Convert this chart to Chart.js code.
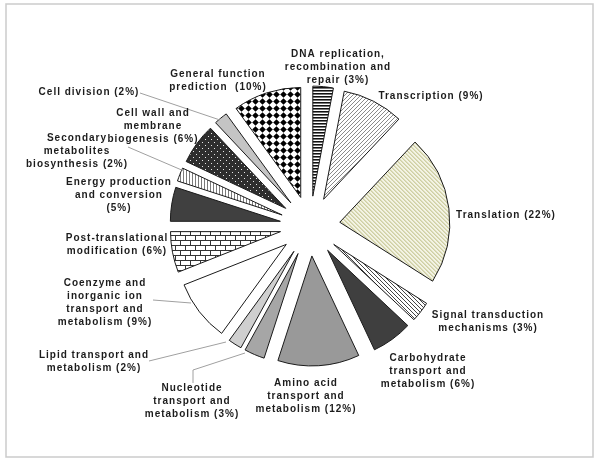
<!DOCTYPE html>
<html>
<head>
<meta charset="utf-8">
<script src="https://cdn.jsdelivr.net/npm/chart.js@4.4.0/dist/chart.umd.min.js"></script>
<style>
    html, body { margin: 0; padding: 0; background: #fff; }
    #wrap { width: 600px; height: 464px; }
</style>
</head>
<body>
<div id="wrap"><canvas id="cogChart" width="600" height="464"></canvas></div>
<script>
// COG functional categories, clockwise from 12 o'clock
const categories = [
    'DNA replication, recombination and repair',
    'Transcription',
    'Translation',
    'Signal transduction mechanisms',
    'Carbohydrate transport and metabolism',
    'Amino acid transport and metabolism',
    'Nucleotide transport and metabolism',
    'Lipid transport and metabolism',
    'Coenzyme and inorganic ion transport and metabolism',
    'Post-translational modification',
    'Energy production and conversion',
    'Secondary metabolites biosynthesis',
    'Cell wall and membrane biogenesis',
    'Cell division',
    'General function prediction'
];
const shares = [3, 9, 22, 3, 6, 12, 3, 2, 9, 6, 5, 2, 6, 2, 10];

// label text as it is broken in the figure
const labelLines = [
    ['DNA replication,', 'recombination and', 'repair (3%)'],
    ['Transcription (9%)'],
    ['Translation (22%)'],
    ['Signal transduction', 'mechanisms (3%)'],
    ['Carbohydrate', 'transport and', 'metabolism (6%)'],
    ['Amino acid', 'transport and', 'metabolism (12%)'],
    ['Nucleotide', 'transport and', 'metabolism (3%)'],
    ['Lipid transport and', 'metabolism (2%)'],
    ['Coenzyme and', 'inorganic ion', 'transport and', 'metabolism (9%)'],
    ['Post-translational', 'modification (6%)'],
    ['Energy production', 'and conversion', '(5%)'],
    ['Secondary', 'metabolites', 'biosynthesis (2%)'],
    ['Cell wall and', 'membrane', 'biogenesis (6%)'],
    ['Cell division (2%)'],
    ['General function', 'prediction  (10%)']
];

// layout: where each label block is centred (first line baseline-middle)
const labelSpots = [
    [338, 54], [431, 96], [506, 215], [488, 315], [428, 358],
    [306, 383], [192, 388], [94, 355], [105, 283], [117, 238],
    [119, 182], [77, 138], [153, 113], [89, 92], [218, 74]
];
// leader lines for the slices whose label sits away from them
const leaders = {
    7: [[149, 361], [226, 342]],
    6: [[193, 383], [193, 370], [245, 353]],
    8: [[153, 300], [191, 303]],
    11: [[128, 147], [184, 171]],
    13: [[140, 93], [220, 120]]
};

const gap = 30;

function makePattern(w, h, paint) {
    const c = document.createElement('canvas');
    c.width = w;
    c.height = h;
    const g = c.getContext('2d');
    paint(g, w, h);
    return g.createPattern(c, 'repeat');
}

function diag(g, n, color, up) {
    g.fillStyle = color;
    for (let i = 0; i < n; i++) {
        g.fillRect(i, up ? n - 1 - i : i, 1, 1);
    }
}

const dnaFill = makePattern(4, 3, (g) => {
    g.fillStyle = '#fff'; g.fillRect(0, 0, 4, 3);
    g.fillStyle = '#111'; g.fillRect(0, 0, 4, 1);
    g.fillStyle = '#777'; g.fillRect(0, 1, 4, 1);
});
const transcriptionFill = makePattern(4, 4, (g) => {
    g.fillStyle = '#fff'; g.fillRect(0, 0, 4, 4);
    diag(g, 4, '#8a8a8a', true);
});
const translationFill = makePattern(4, 4, (g) => {
    g.fillStyle = '#f3f3e4'; g.fillRect(0, 0, 4, 4);
    diag(g, 4, '#cfcfa4', false);
    g.fillStyle = '#dcdcba';
    for (let i = 0; i < 4; i++) g.fillRect((i + 1) % 4, i, 1, 1);
});
const signalFill = makePattern(4, 4, (g) => {
    g.fillStyle = '#fff'; g.fillRect(0, 0, 4, 4);
    diag(g, 4, '#444', false);
});
const postFill = makePattern(10, 10, (g) => {
    g.fillStyle = '#fff'; g.fillRect(0, 0, 10, 10);
    g.fillStyle = '#333';
    g.fillRect(0, 0, 10, 1);
    g.fillRect(0, 5, 10, 1);
    g.fillRect(0, 0, 1, 5);
    g.fillRect(5, 5, 1, 5);
});
const secondaryFill = makePattern(3, 1, (g) => {
    g.fillStyle = '#fff'; g.fillRect(0, 0, 3, 1);
    g.fillStyle = '#7a7a7a'; g.fillRect(0, 0, 1, 1);
});
const cellWallFill = makePattern(6, 6, (g) => {
    g.fillStyle = '#2e2e2e'; g.fillRect(0, 0, 6, 6);
    g.fillStyle = '#e8e8e8';
    g.fillRect(1, 1, 1, 1);
    g.fillRect(4, 4, 1, 1);
});
const generalFill = makePattern(7, 7, (g) => {
    g.fillStyle = '#fff'; g.fillRect(0, 0, 7, 7);
    g.fillStyle = '#000';
    g.beginPath();
    g.moveTo(3.5, 0.2);
    g.lineTo(6.8, 3.5);
    g.lineTo(3.5, 6.8);
    g.lineTo(0.2, 3.5);
    g.closePath();
    g.fill();
});

const fills = [
    dnaFill, transcriptionFill, translationFill, signalFill, '#3f3f3f',
    '#999999', '#a6a6a6', '#cfcfcf', '#ffffff', postFill,
    '#404040', secondaryFill, cellWallFill, '#c4c4c4', generalFill
];

// pull every slice straight out along its middle angle (a plain translation)
const explode = {
    id: 'explode',
    afterDatasetUpdate(chart, args) {
        args.meta.data.forEach(arc => {
            const mid = (arc.startAngle + arc.endAngle) / 2;
            arc.x += Math.cos(mid) * gap;
            arc.y += Math.sin(mid) * gap;
        });
    }
};

const annotate = {
    id: 'annotate',
    beforeDraw(chart) {
        const ctx = chart.ctx;
        ctx.save();
        ctx.strokeStyle = '#cbcbcb';
        ctx.lineWidth = 1.5;
        ctx.strokeRect(6, 4, 587, 453);
        ctx.restore();
    },
    afterDraw(chart) {
        const ctx = chart.ctx;
        ctx.save();
        ctx.strokeStyle = '#a0a0a0';
        ctx.lineWidth = 1;
        Object.values(leaders).forEach(pts => {
            ctx.beginPath();
            pts.forEach((p, i) => i ? ctx.lineTo(p[0], p[1]) : ctx.moveTo(p[0], p[1]));
            ctx.stroke();
        });

        ctx.fillStyle = '#1c1c1c';
        ctx.font = 'bold 10px "Liberation Sans", Arial, sans-serif';
        ctx.letterSpacing = '1px';
        ctx.textAlign = 'center';
        ctx.textBaseline = 'middle';
        labelLines.forEach((lines, i) => {
            const [x, y] = labelSpots[i];
            lines.forEach((txt, j) => ctx.fillText(txt, x, y + j * 13));
        });
        ctx.restore();
    }
};

new Chart(document.getElementById('cogChart'), {
    type: 'pie',
    data: {
        labels: categories,
        datasets: [{
            data: shares,
            backgroundColor: fills,
            borderColor: '#1a1a1a',
            borderWidth: 1
        }]
    },
    options: {
        responsive: false,
        animation: false,
        radius: 110,
        layout: { padding: { left: 20, right: 0, top: 0, bottom: 12 } },
        plugins: {
            legend: { display: false },
            tooltip: { enabled: false }
        }
    },
    plugins: [explode, annotate]
});
</script>
</body>
</html>
